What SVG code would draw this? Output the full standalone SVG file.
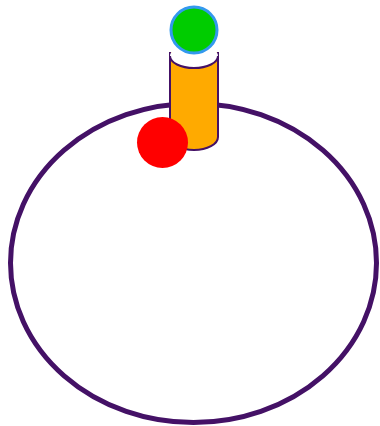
<svg xmlns="http://www.w3.org/2000/svg" width="380" height="426" viewBox="0 0 380 426">
<style>
.outline{fill:none;stroke:#441166;stroke-width:5}
.cyl{fill:#ffaa00;stroke:#441166;stroke-width:2}
</style>
<rect width="380" height="426" fill="#ffffff"/>
<g id="ring"><ellipse class="outline" cx="193.5" cy="263" rx="183" ry="159.5"/></g>
<g id="cylinder">
<path class="cyl" d="M170,52 L170,137 A24,13 0 0 0 218,137 L218,52"/>
<ellipse cx="194" cy="56" rx="24" ry="12" fill="#ffffff"/>
<path d="M170,56 A24,12 0 0 0 218,56" fill="none" stroke="#441166" stroke-width="2"/>
</g>
<g id="green"><circle cx="194" cy="30" r="23" fill="#00cc00" stroke="#3399ee" stroke-width="3"/></g>
<g id="red"><circle cx="162.5" cy="142.5" r="25.5" fill="#ff0000"/></g>
</svg>
